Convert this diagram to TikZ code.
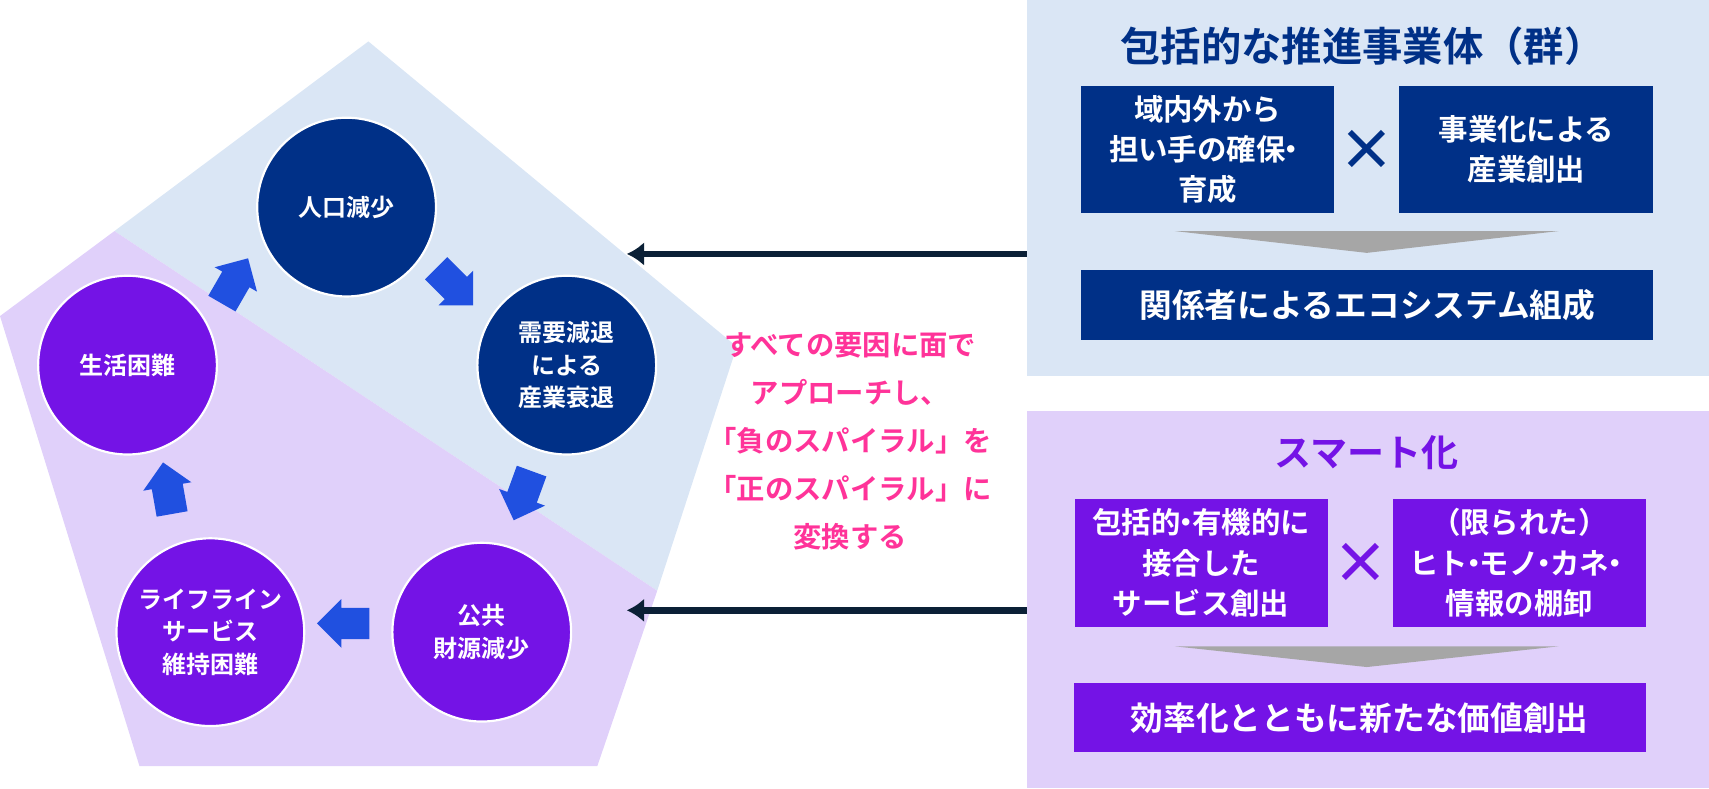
\documentclass[tikz,border=0pt]{standalone}
\usepackage{fontspec}
\setmainfont{Noto Sans CJK JP}[BoldFont={Noto Sans CJK JP Bold}]
\usetikzlibrary{shapes.arrows,arrows.meta}
\definecolor{navy}{HTML}{003087}
\definecolor{violet}{HTML}{7413E6}
\definecolor{paleblue}{HTML}{DAE6F5}
\definecolor{palepurple}{HTML}{E0D0FA}
\definecolor{arrowblue}{HTML}{2050E0}
\definecolor{pinktext}{HTML}{FF3399}
\definecolor{darkline}{HTML}{0B2036}
\newcommand{\nakaguro}{\hspace{-0.3em}・\hspace{-0.3em}}
\tikzset{cycle/.style={draw=white,line width=1pt,circle,minimum size=82pt,text=white,font=\bfseries\fontsize{11}{15}\selectfont,align=center}}
\tikzset{turn/.style={single arrow,fill=arrowblue,minimum height=24pt,minimum width=22pt,single arrow head extend=4pt,inner xsep=2pt,inner ysep=7pt}}
\tikzset{box/.style={text=white,font=\bfseries\fontsize{13.5}{18.5}\selectfont,align=center,inner sep=0pt}}
\tikzset{wide/.style={box,font=\bfseries\fontsize{15}{18}\selectfont}}
\tikzset{times/.style={font=\bfseries\fontsize{26}{26}\selectfont}}
\begin{document}
\begin{tikzpicture}[x=0.5pt,y=-0.5pt]
		\useasboundingbox (0,0) rectangle (1568,723);

		% pentagon
		\fill[paleblue] (338,38) -- (676,318) -- (603,542) -- (105,212) -- cycle;
		\fill[palepurple] (105,212) -- (603,542) -- (548,703) -- (128,703) -- (0,290) -- cycle;

		\node[cycle,fill=navy](pop) at (318,190){人口減少};
		\node[cycle,fill=navy](dem) at (520,335){需要減退\\による\\産業衰退};
		\node[cycle,fill=violet](fin) at (442,580){公共\\財源減少};
		\node[cycle,fill=violet](life) at (193,580){ライフライン\\サービス\\維持困難};
		\node[cycle,fill=violet](hard) at (117,335){生活困難};

		\node[turn,rotate=60](s1) at (212,264){};
		\node[turn,rotate=-45](s2) at (412,258){};
		\node[turn,rotate=-110](s3) at (482,448){};
		\node[turn,rotate=180](s4) at (322,572){};
		\node[turn,rotate=100](s5) at (155,455){};

		% right panels
		\fill[paleblue] (942,0) rectangle (1568,345);
		\fill[palepurple] (942,377) rectangle (1568,723);

		\node[font=\bfseries\fontsize{18.5}{20}\selectfont,text=navy](ttl1) at (1250,42){包括的な推進事業体（群）};
		\node[box,fill=navy,minimum width=116pt,minimum height=58.5pt](b1) at (1108,137){域内外から\\担い手の確保\nakaguro\\育成};
		\node[box,fill=navy,minimum width=116.5pt,minimum height=58.5pt](b2) at (1400.5,137){事業化による\\産業創出};
		\node[times,text=navy](x1) at (1254,138){×};
		\fill[black!35] (1078,212) -- (1430,212) -- (1254,232) -- cycle;
		\node[wide,fill=navy,minimum width=262.5pt,minimum height=32pt](r1) at (1254.5,280){関係者によるエコシステム組成};

		\node[font=\bfseries\fontsize{17}{20}\selectfont,text=violet](ttl2) at (1254,415){スマート化};
		\node[box,fill=violet,minimum width=116pt,minimum height=58.5pt](b3) at (1102,516.5){包括的\nakaguro 有機的に\\接合した\\サービス創出};
		\node[box,fill=violet,minimum width=116pt,minimum height=58.5pt](b4) at (1394,516.5){（限られた）\\ヒト\nakaguro モノ\nakaguro カネ\nakaguro\\情報の棚卸};
		\node[times,text=violet](x2) at (1249,517){×};
		\fill[black!35] (1078,593) -- (1430,593) -- (1254,612) -- cycle;
		\node[wide,fill=violet,minimum width=262.5pt,minimum height=31.5pt](r2) at (1247.5,658.5){効率化とともに新たな価値創出};

		% message
		\node[text=pinktext,font=\bfseries\fontsize{13}{22}\selectfont,align=center](msg) at (780,405){すべての要因に面で\\アプローチし、\\「負のスパイラル」を\\「正のスパイラル」に\\変換する};

		\coordinate (e1) at (942,233);
		\coordinate (t1) at (575,233);
		\coordinate (e2) at (942,560);
		\coordinate (t2) at (575,560);
		\draw[darkline,line width=3pt,-{Latex[length=8pt,width=11pt]}] (e1) -- (t1);
		\draw[darkline,line width=3pt,-{Latex[length=8pt,width=11pt]}] (e2) -- (t2);
\end{tikzpicture}
\end{document}
